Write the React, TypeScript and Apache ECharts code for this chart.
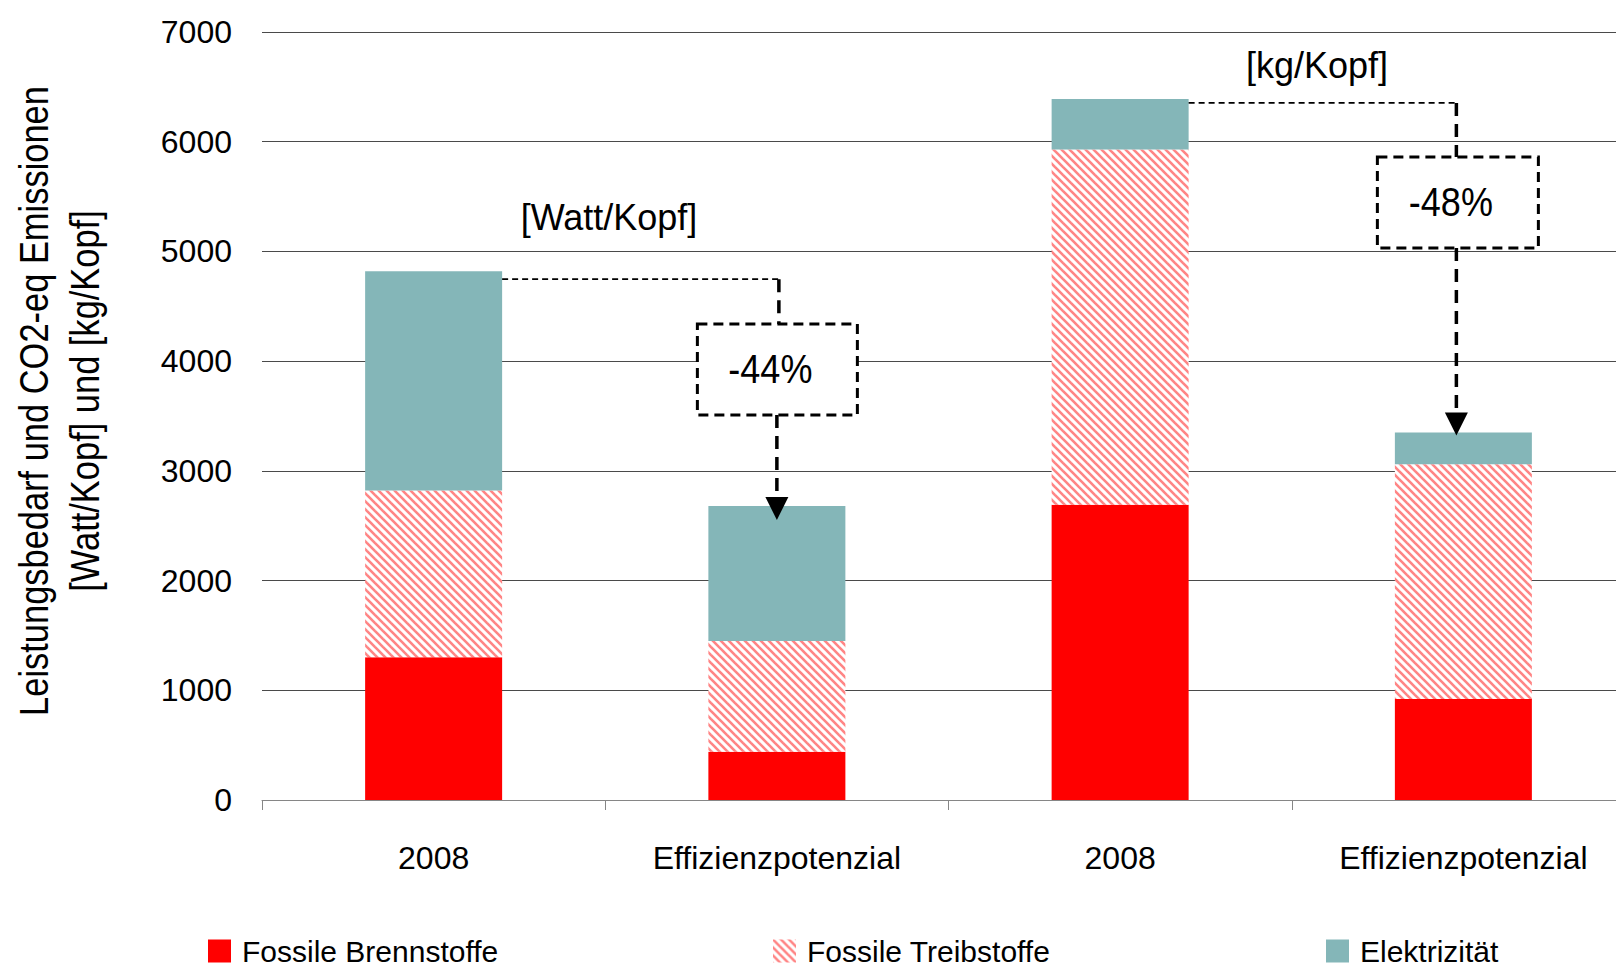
import React, { useEffect, useRef } from 'react';
import * as echarts from 'echarts';

// ---- data ----
const categories = ['2008', 'Effizienzpotenzial', '2008', 'Effizienzpotenzial'];
const seriesNames = ['Fossile Brennstoffe', 'Fossile Treibstoffe', 'Elektrizität'];
const brennstoffe = [1300, 440, 2690, 920];
const treibstoffe = [1520, 1010, 3240, 2140];
const elektrizitaet = [2000, 1230, 460, 290];
const yMin = 0;
const yMax = 7000;
const yInterval = 1000;
const unitLabels = ['[Watt/Kopf]', '[kg/Kopf]'];
const reductionLabels = ['-44%', '-48%'];
const yAxisTitle = 'Leistungsbedarf und CO2-eq Emissionen\n[Watt/Kopf] und [kg/Kopf]';

const FONT = "'Liberation Sans', Arial, sans-serif";
const RED = '#FF0000';
const TEAL = '#84B6B8';
const PINK = '#FF8585';

function makeHatch(): HTMLCanvasElement {
  const c = document.createElement('canvas');
  c.width = 8;
  c.height = 8;
  const ctx = c.getContext('2d')!;
  ctx.fillStyle = '#ffffff';
  ctx.fillRect(0, 0, 8, 8);
  ctx.strokeStyle = PINK;
  ctx.lineWidth = 2.6;
  for (const o of [-8, 0, 8]) {
    ctx.beginPath();
    ctx.moveTo(o - 2, -2);
    ctx.lineTo(o + 10, 10);
    ctx.stroke();
  }
  return c;
}

export default function App() {
  const ref = useRef<HTMLDivElement>(null);

  useEffect(() => {
    const chart = echarts.init(ref.current!, null, { renderer: 'svg' });
    const hatch = { image: makeHatch(), repeat: 'repeat', imageWidth: 8, imageHeight: 8 } as any;
    const barWidth = 137;

    const legendBase = {
      top: 936,
      padding: 0,
      itemWidth: 23,
      itemHeight: 23,
      selectedMode: false,
      icon: 'rect',
      textStyle: { fontFamily: FONT, fontSize: 30, lineHeight: 30, color: '#000', padding: [0, 0, 0, 6] },
    };

    chart.setOption({
      animation: false,
      backgroundColor: '#fff',
      grid: { left: 262, top: 32, width: 1373, height: 768, containLabel: false },
      legend: [
        { ...legendBase, left: 208, data: [seriesNames[0]] },
        { ...legendBase, left: 773, data: [seriesNames[1]] },
        { ...legendBase, left: 1326, data: [seriesNames[2]] },
      ],
      xAxis: {
        type: 'category',
        data: categories,
        axisLine: { show: true, lineStyle: { color: '#868686', width: 1 } },
        axisTick: { show: true, length: 10, lineStyle: { color: '#868686' } },
        axisLabel: { fontFamily: FONT, fontSize: 32, color: '#000', margin: 42, interval: 0 },
        splitLine: { show: false },
      },
      yAxis: {
        type: 'value',
        min: yMin,
        max: yMax,
        interval: yInterval,
        axisLine: { show: false },
        axisTick: { show: false },
        axisLabel: {
          fontFamily: FONT, fontSize: 32, color: '#000', margin: 30,
          formatter: (v: number) => String(v),
        },
        splitLine: { show: true, lineStyle: { color: '#4a4a4a', width: 1 } },
      },
      series: [
        {
          name: seriesNames[0], type: 'bar', stack: 's', barWidth,
          data: brennstoffe, itemStyle: { color: RED },
        },
        {
          name: seriesNames[1], type: 'bar', stack: 's', barWidth,
          data: treibstoffe, itemStyle: { color: hatch },
        },
        {
          name: seriesNames[2], type: 'bar', stack: 's', barWidth,
          data: elektrizitaet, itemStyle: { color: TEAL },
        },
      ],
    });

    const totals = categories.map((_, i) => brennstoffe[i] + treibstoffe[i] + elektrizitaet[i]);
    const px = (i: number, v: number) => chart.convertToPixel({ gridIndex: 0 } as any, [i, v]) as number[];

    const thin = { stroke: '#000', lineWidth: 1.8, lineDash: [6, 4], fill: null };
    const thick = { stroke: '#000', lineWidth: 3.5, lineDash: [13, 8], fill: null };

    const buildArrow = (
      from: number, to: number, lineOffset: number, xShiftUpper: number, xShiftLower: number,
      boxTop: number, boxH: number, boxW: number, boxShift: number, tipOffset: number, label: string
    ) => {
      const p0 = px(from, totals[from]);
      const p1 = px(to, totals[to]);
      const barRight = p0[0] + barWidth / 2;
      const lineY = p0[1] + lineOffset;
      const xu = p1[0] + xShiftUpper;
      const xl = p1[0] + xShiftLower;
      const boxCx = p1[0] + boxShift;
      const tipY = p1[1] + tipOffset;
      const triH = 23;
      return [
        { type: 'polyline', z: 100, shape: { points: [[barRight, lineY], [xu, lineY]] }, style: thin },
        { type: 'polyline', z: 100, shape: { points: [[xu, lineY], [xu, boxTop]] }, style: thick },
        {
          type: 'rect', z: 101,
          shape: { x: boxCx - boxW / 2, y: boxTop, width: boxW, height: boxH },
          style: { fill: '#fff', stroke: '#000', lineWidth: 3, lineDash: [10, 6] },
        },
        {
          type: 'text', z: 102, x: boxCx - 7, y: boxTop + boxH / 2, scaleX: 0.9,
          style: { text: label, fontFamily: FONT, fontSize: 40, fill: '#000', align: 'center', verticalAlign: 'middle' },
        },
        { type: 'polyline', z: 100, shape: { points: [[xl, boxTop + boxH], [xl, tipY - triH]] }, style: thick },
        {
          type: 'polygon', z: 100,
          shape: { points: [[xl - 11.5, tipY - triH], [xl + 11.5, tipY - triH], [xl, tipY]] },
          style: { fill: '#000', stroke: null },
        },
      ];
    };

    chart.setOption({
      graphic: [
        {
          type: 'text', x: 59, y: 401, rotation: Math.PI / 2, scaleX: 0.84,
          style: {
            text: yAxisTitle, fontFamily: FONT, fontSize: 41, lineHeight: 51, fill: '#000',
            align: 'center', verticalAlign: 'middle',
          },
        },
        {
          type: 'text', x: 609, y: 217,
          style: { text: unitLabels[0], fontFamily: FONT, fontSize: 36, fill: '#000', align: 'center', verticalAlign: 'middle' },
        },
        {
          type: 'text', x: 1317, y: 65,
          style: { text: unitLabels[1], fontFamily: FONT, fontSize: 36, fill: '#000', align: 'center', verticalAlign: 'middle' },
        },
        ...buildArrow(0, 1, 8, 2, 0, 324, 91, 160, 0.5, 14, reductionLabels[0]),
        ...buildArrow(2, 3, 4, -7, -7, 157, 91, 161, -5.5, 3, reductionLabels[1]),
      ],
    });

    return () => chart.dispose();
  }, []);

  return (
    <div style={{ position: 'absolute', left: 0, top: 0, width: 1616, height: 970, overflow: 'hidden', background: '#fff' }}>
      <div ref={ref} style={{ position: 'absolute', left: 0, top: 0, width: 1640, height: 970 }} />
    </div>
  );
}
